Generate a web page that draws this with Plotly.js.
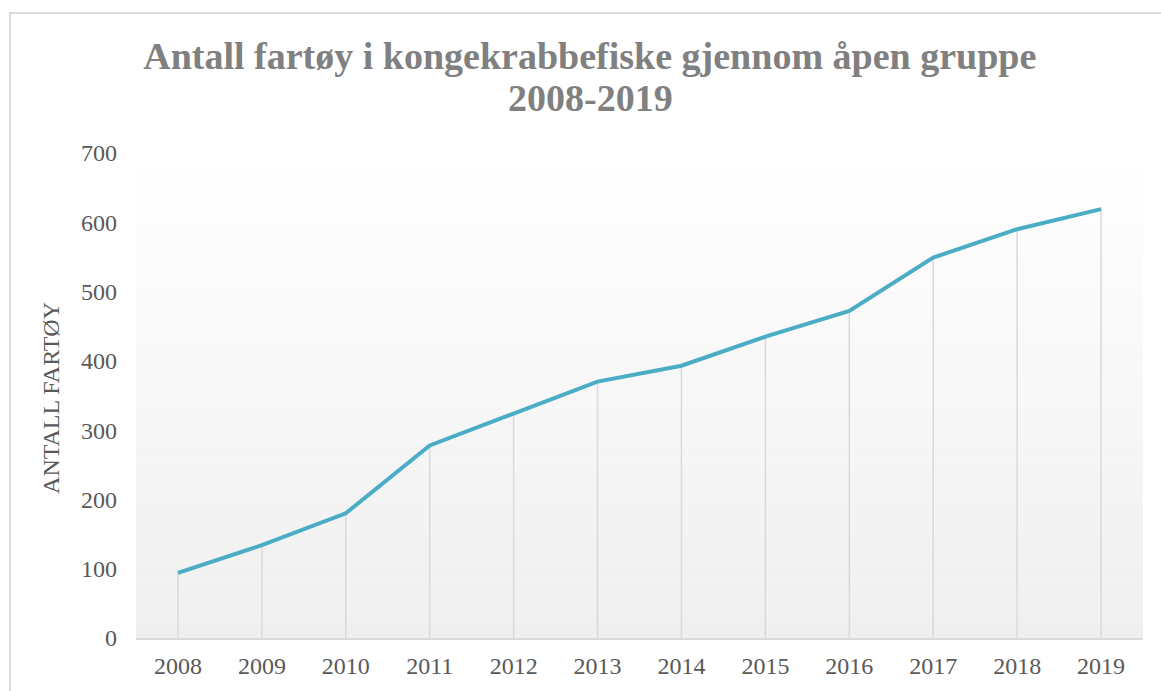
<!DOCTYPE html>
<html>
<head>
<meta charset="utf-8">
<script src="https://cdn.plot.ly/plotly-3.0.1.min.js"></script>
<style>html,body{margin:0;padding:0;background:#fff;}#chart{width:1161px;height:691px;}</style>
</head>
<body>
<div id="chart"></div>
<script>
const years = [2008, 2009, 2010, 2011, 2012, 2013, 2014, 2015, 2016, 2017, 2018, 2019];
const vessels = [94, 134, 180, 278, 324, 370, 393, 435, 472, 549, 590, 619];
const yTicks = [0, 100, 200, 300, 400, 500, 600, 700];
const titleLine1 = "Antall fartøy i kongekrabbefiske gjennom åpen gruppe";
const titleLine2 = "2008-2019";
const yTitle = "ANTALL FARTØY";

// drop lines from each point to the axis
const dropX = [], dropY = [];
years.forEach((yr, i) => { dropX.push(yr, yr, null); dropY.push(0, vessels[i], null); });

// gradient plot background (white at top to light grey at bottom)
const shapes = [];
const bands = 60;
for (let i = 0; i < bands; i++) {
  const t = (i + 0.5) / bands; // 0 bottom .. 1 top
  const c = Math.round(239 + (255 - 239) * t);
  shapes.push({type: 'rect', xref: 'paper', yref: 'paper', x0: 0, x1: 1,
    y0: i / bands, y1: (i + 1) / bands, fillcolor: `rgb(${c},${c},${c})`,
    line: {width: 0}, layer: 'below'});
}
// outer chart border
shapes.push({type: 'rect', xref: 'paper', yref: 'paper', x0: -0.1251, x1: 1.2, y0: -0.5, y1: 1.2887,
  line: {color: '#d9d9d9', width: 2}, fillcolor: 'rgba(0,0,0,0)', layer: 'above'});

const traces = [
  {x: dropX, y: dropY, mode: 'lines', line: {color: '#d9d9d9', width: 1.5}, hoverinfo: 'skip', showlegend: false},
  {x: years, y: vessels, mode: 'lines', line: {color: '#4bacc6', width: 4}, showlegend: false}
];

const font = "'Liberation Serif', 'Times New Roman', serif";
const titleFont = {family: font, size: 38, color: '#808080', weight: 'bold'};
const layout = {
  width: 1161, height: 691,
  margin: {l: 136, r: 18, t: 153, b: 53},
  paper_bgcolor: '#ffffff', plot_bgcolor: 'rgba(0,0,0,0)',
  font: {family: font, color: '#595959', size: 24},
  title: {text: titleLine1, font: titleFont,
    x: 0.508, xanchor: 'center', xref: 'container', y: 0.919, yanchor: 'middle', yref: 'container'},
  xaxis: {range: [2007.5, 2019.5], tickvals: years, ticktext: years.map(String), showgrid: false,
    zeroline: false, showline: true, linecolor: '#d9d9d9', linewidth: 2, ticks: '',
    ticklabelstandoff: 5, tickfont: {family: font, size: 24, color: '#595959'}},
  yaxis: {range: [0, 700], tickvals: yTicks, showgrid: false, zeroline: false, showline: false,
    ticks: '', ticklabelstandoff: 18, tickfont: {family: font, size: 24, color: '#595959'}},
  annotations: [
    {text: titleLine2, xref: 'paper', yref: 'paper', x: (590 - 136) / 1007, y: 1.1134,
      xanchor: 'center', yanchor: 'middle', showarrow: false, font: titleFont},
    {text: yTitle, xref: 'paper', yref: 'paper', x: -0.0844, y: 0.495,
      xanchor: 'center', yanchor: 'middle', textangle: -90, showarrow: false,
      font: {family: font, size: 24, color: '#595959'}}],
  shapes: shapes,
  showlegend: false, hovermode: false
};

Plotly.newPlot('chart', traces, layout, {displayModeBar: false, staticPlot: true});
</script>
</body>
</html>
